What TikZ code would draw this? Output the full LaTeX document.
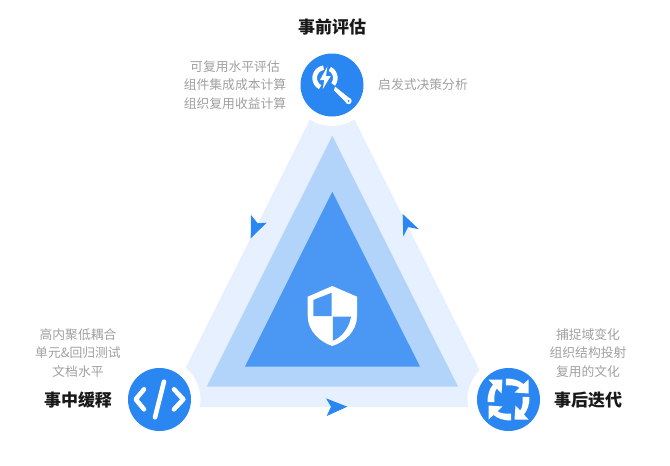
\documentclass[tikz,border=0pt]{standalone}
\usepackage{fontspec}
\setmainfont{Noto Sans CJK SC}
\definecolor{pale}{HTML}{E6F0FE}
\definecolor{mid}{HTML}{B2D3FA}
\definecolor{deep}{HTML}{4A98F4}
\definecolor{hubblue}{HTML}{2A86F0}
\definecolor{note}{HTML}{A0A0A0}
\tikzset{
	hub/.style={circle, fill=hubblue, minimum size=63pt, inner sep=0pt},
	halo/.style={circle, fill=white, minimum size=82pt, inner sep=0pt},
	title/.style={font=\fontsize{17}{20}\selectfont\bfseries, text=black!90, inner sep=0pt},
	remark/.style={font=\fontsize{12.8}{18.3}\selectfont, text=note, align=center, inner sep=0pt},
	tip/.style={fill=hubblue},
	stroke/.style={white, line width=4.6pt, line cap=round, line join=round}
}
\begin{document}
\begin{tikzpicture}[x=1pt, y=-1pt]
	\useasboundingbox (0,0) rectangle (670,466);
	\fill[pale] (332.3,75) -- (498,407) -- (166,407) -- cycle;
	\fill[mid] (332.3,135.7) -- (458,386.7) -- (206.7,386.7) -- cycle;
	\fill[deep] (332.3,191.7) -- (420,366.7) -- (245,366.7) -- cycle;
	\node[halo] (haloT) at (332,85) {};
	\node[halo] (haloL) at (159.5,399.5) {};
	\node[halo] (haloR) at (508.5,399.5) {};
	\node[hub] (before) at (332,85) {};
	\node[hub] (during) at (159.5,399.5) {};
	\node[hub] (after) at (508.5,399.5) {};
	\fill[tip] (250.7,238.3) -- (251,215) -- (257.7,223.3) -- (266.7,222.7) -- cycle;
	\fill[tip] (402.7,214) -- (419,229.3) -- (408,227) -- (403.3,236.7) -- cycle;
	\fill[tip] (326,398.3) -- (347.3,406.7) -- (326.7,416) -- (331,406.7) -- cycle;
	% shield
	\fill[white] (332.3,286) -- (357,296.7) -- (357,316) .. controls (357,331) and (345,342) .. (332.3,346) .. controls (320,342) and (307.7,331) .. (307.7,316) -- (307.7,296.7) -- cycle;
	\fill[deep] (313.3,300) -- (331.7,292.7) -- (331.7,316) -- (313.3,316) -- cycle;
	\fill[deep] (332.9,316.7) -- (351,316.7) .. controls (349,328) and (342,337) .. (332.9,340.7) -- cycle;
	% magnifier
	\begin{scope}[shift={(325,78)}]
		\draw[stroke, line cap=butt, domain=118:262, samples=30] plot ({10.3*cos(\x)},{10.3*sin(\x)});
		\draw[stroke, line cap=butt, domain=-62:38, samples=30] plot ({10.3*cos(\x)},{10.3*sin(\x)});
		\fill[white] (2.3,-11.3) -- (-5,2) -- (-0.7,2) -- (-2.3,11.3) -- (5.7,-2) -- (1,-2) -- cycle;
		\fill[white] (10,8.5) -- (13,11) -- (25.5,21) -- (22,25.5) -- (9,12.5) -- cycle;
		\fill[white] (23.5,23) circle[radius=3.2];
		\fill[hubblue] (23.5,23) circle[radius=1];
	\end{scope}
	% code
	\draw[stroke] (144,389.3) -- (135.7,399.3) -- (144,409.3);
	\draw[stroke] (174,389.3) -- (183.3,399.3) -- (174,409.3);
	\draw[stroke] (164,381.7) -- (155,417.3);
	% cycle
	\foreach \turn in {0,90,180,270}
	\fill[white, shift={(508.5,399.5)}, rotate=\turn] (-2.7,-21) .. controls (5,-21) and (11,-19) .. (15,-15.4) -- (20,-20) -- (20,-6) -- (6,-7) -- (11,-11.7) .. controls (8,-14) and (3,-14.5) .. (-2.7,-14) -- cycle;
	\node[title] (titleT) at (332,27) {事前评估};
	\node[title] (titleL) at (78,400) {事中缓释};
	\node[title] (titleR) at (588,400) {事后迭代};
	\node[remark] (noteTL) at (235,85) {可复用水平评估\\组件集成成本计算\\组织复用收益计算};
	\node[remark] (noteTR) at (423,85) {启发式决策分析};
	\node[remark] (noteL) at (78,353) {高内聚低耦合\\单元\&回归测试\\文档水平};
	\node[remark] (noteR) at (588,353) {捕捉域变化\\组织结构投射\\复用的文化};
\end{tikzpicture}
\end{document}
